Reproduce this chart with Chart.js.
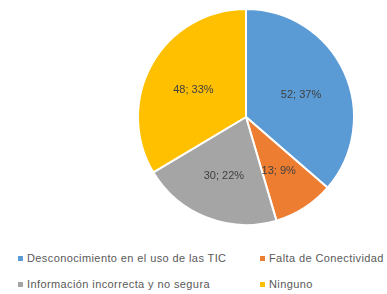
<!DOCTYPE html>
<html>
<head>
<meta charset="utf-8">
<script src="https://cdn.jsdelivr.net/npm/chart.js@4.4.0/dist/chart.umd.min.js"></script>
<style>
  html, body { margin: 0; padding: 0; background: #fff; }
  #wrap { position: relative; width: 387px; height: 294px; overflow: hidden; }
  #chartBox { position: absolute; left: 0; top: 0; width: 387px; height: 234px; }
  #legend { position: absolute; left: 18px; top: 250px; width: 369px;
            display: grid; grid-template-columns: 242px auto; row-gap: 10px;
            font-family: "Liberation Sans", Arial, sans-serif; font-size: 11px; letter-spacing: 0.4px; color: #595959;
            white-space: nowrap; }
  .item { display: flex; align-items: center; height: 16px; }
  .sw { width: 5px; height: 5px; margin-right: 4px; flex: none; }
</style>
</head>
<body>
<div id="wrap">
  <div id="chartBox"><canvas id="c"></canvas></div>
  <div id="legend"></div>
</div>
<script>
const categories = [
  "Desconocimiento en el uso de las TIC",
  "Falta de Conectividad",
  "Información incorrecta y no segura",
  "Ninguno"
];
const values = [52, 13, 30, 48];
const percentLabels = ["37%", "9%", "22%", "33%"];
const colors = ["#5B9BD5", "#ED7D31", "#A5A5A5", "#FFC000"];

const labelPlugin = {
  id: 'sliceLabels',
  afterDatasetsDraw(chart) {
    const ctx = chart.ctx;
    const meta = chart.getDatasetMeta(0);
    ctx.save();
    ctx.font = '11px "Liberation Sans", Arial, sans-serif';
    ctx.fillStyle = '#404040';
    ctx.textAlign = 'center';
    ctx.textBaseline = 'middle';
    meta.data.forEach((arc, i) => {
      const mid = (arc.startAngle + arc.endAngle) / 2;
      const r = arc.outerRadius * 0.56;
      const x = arc.x + Math.cos(mid) * r;
      const y = arc.y + Math.sin(mid) * r + 3;
      ctx.fillText(values[i] + "; " + percentLabels[i], x, y);
    });
    ctx.restore();
  }
};

new Chart(document.getElementById('c'), {
  type: 'pie',
  data: {
    labels: categories,
    datasets: [{
      data: values,
      backgroundColor: colors,
      borderColor: '#ffffff',
      borderWidth: 2
    }]
  },
  options: {
    responsive: true,
    maintainAspectRatio: false,
    animation: false,
    layout: { padding: { top: 8, bottom: 8, left: 137, right: 32 } },
    plugins: { legend: { display: false }, tooltip: { enabled: false } }
  },
  plugins: [labelPlugin]
});

const legend = document.getElementById('legend');
categories.forEach((name, i) => {
  const d = document.createElement('div');
  d.className = 'item';
  const s = document.createElement('span');
  s.className = 'sw';
  s.style.background = colors[i];
  const t = document.createElement('span');
  t.textContent = name;
  d.appendChild(s); d.appendChild(t);
  legend.appendChild(d);
});
</script>
</body>
</html>
